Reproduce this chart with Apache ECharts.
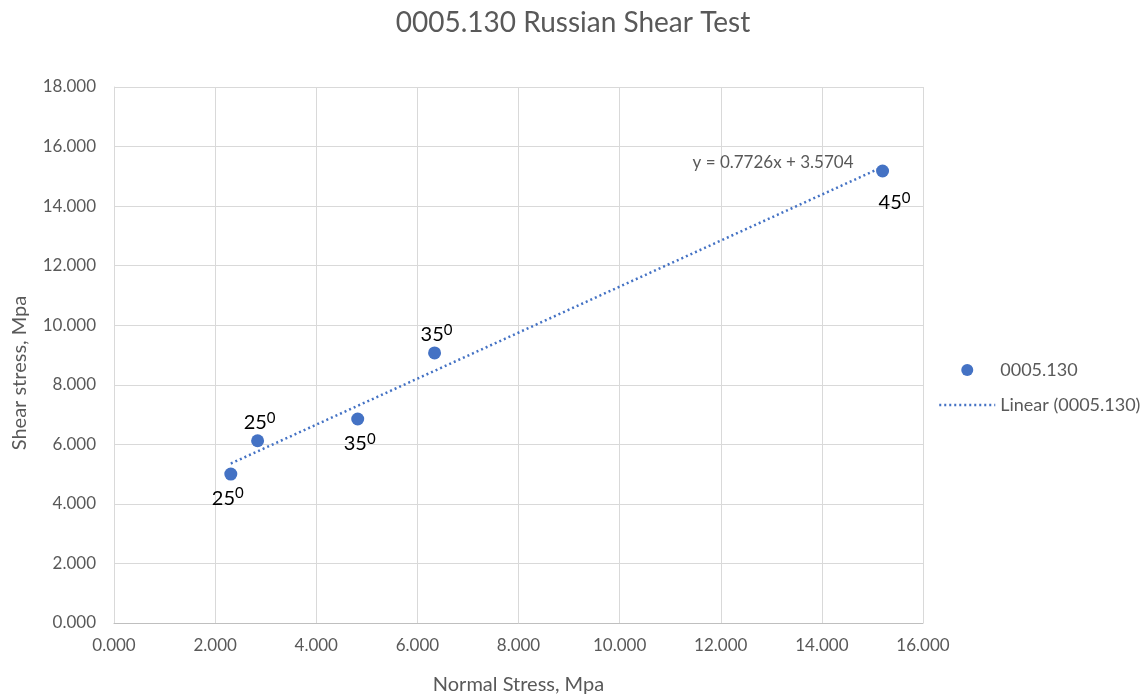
<!DOCTYPE html>
<html>
<head>
<meta charset="utf-8">
<title>0005.130 Russian Shear Test</title>
<script src="https://cdn.jsdelivr.net/npm/echarts@6/dist/echarts.min.js"></script>
<style>
  html, body { margin: 0; padding: 0; background: #fff; }
  #chart { width: 1146px; height: 695px; }
</style>
</head>
<body>
<div id="chart"></div>
<script>
// measured points (normal stress, shear stress)
const normalStress = [2.31, 2.84, 4.82, 6.34, 15.20];
const shearStress = [5.00, 6.12, 6.85, 9.07, 15.18];
const angleLabels = ['25', '25', '35', '35', '45'];
// label offset from the point centre, px
const labelOffsets = [[-3, 24], [2, -18], [2, 25], [2, -18], [12, 32]];

// excel trendline
const slope = 0.7726;
const intercept = 3.5704;
const trendX = [2.31, 15.20];
const trendLabel = 'y = 0.7726x + 3.5704';

const xTicks = { min: 0, max: 16, interval: 2 };
const yTicks = { min: 0, max: 18, interval: 2 };

const fontFamily = 'Lato, "Liberation Sans", sans-serif';
const chart = echarts.init(document.getElementById('chart'));

const pointData = normalStress.map((x, i) => ({
  value: [x, shearStress[i]],
  label: {
    show: true,
    position: 'inside',
    offset: labelOffsets[i],
    formatter: '{a|' + angleLabels[i] + '}{b|0}'
  }
}));

const trendData = trendX.map(x => [x, slope * x + intercept]);

chart.setOption({
  animation: false,
  textStyle: { fontFamily: fontFamily },
  title: {
    text: '0005.130 Russian Shear Test',
    left: 'center',
    top: 4,
    textStyle: { color: '#595959', fontSize: 28, fontWeight: 'normal', fontFamily: fontFamily }
  },
  legend: {
    orient: 'vertical',
    left: 933,
    top: 356,
    itemGap: 17,
    itemWidth: 56,
    itemHeight: 12,
    textStyle: { color: '#595959', fontSize: 18 },
    data: [
      { name: '0005.130', icon: 'circle' },
      {
        name: 'Linear (0005.130)',
        itemStyle: { opacity: 0 },
        lineStyle: { width: 2.5, type: [2, 3] }
      }
    ]
  },
  grid: { left: 114, right: 223, top: 87, bottom: 72, outerBoundsMode: 'none' },
  xAxis: {
    type: 'value',
    min: xTicks.min,
    max: xTicks.max,
    interval: xTicks.interval,
    name: 'Normal Stress, Mpa',
    nameLocation: 'middle',
    nameGap: 52,
    nameTextStyle: { color: '#595959', fontSize: 20 },
    axisLine: { lineStyle: { color: '#bfbfbf' } },
    axisTick: { show: false },
    axisLabel: {
      color: '#595959', fontSize: 17, margin: 14,
      formatter: v => v.toFixed(3)
    },
    splitLine: { lineStyle: { color: '#d9d9d9' } }
  },
  yAxis: {
    type: 'value',
    min: yTicks.min,
    max: yTicks.max,
    interval: yTicks.interval,
    name: 'Shear stress, Mpa',
    nameLocation: 'middle',
    nameGap: 84,
    nameTextStyle: { color: '#595959', fontSize: 20, padding: [0, 36, 0, 0] },
    axisLine: { show: true, lineStyle: { color: '#d9d9d9' } },
    axisTick: { show: false },
    axisLabel: {
      color: '#595959', fontSize: 17, margin: 18,
      formatter: v => v.toFixed(3)
    },
    splitLine: { lineStyle: { color: '#d9d9d9' } }
  },
  series: [
    {
      name: 'Linear (0005.130)',
      type: 'line',
      data: trendData,
      symbol: 'none',
      z: 1,
      lineStyle: { color: '#4472c4', width: 2.5, type: [2, 3] },
      itemStyle: { color: '#4472c4' },
      endLabel: {
        show: true,
        formatter: trendLabel,
        color: '#595959',
        fontSize: 17,
        offset: [-198, -4]
      }
    },
    {
      name: '0005.130',
      type: 'scatter',
      data: pointData,
      symbolSize: 13,
      z: 3,
      itemStyle: { color: '#4472c4', opacity: 1 },
      label: {
        rich: {
          a: { fontSize: 20, color: '#000', fontFamily: fontFamily, lineHeight: 24 },
          b: { fontSize: 15, color: '#000', fontFamily: fontFamily, verticalAlign: 'top', lineHeight: 24, padding: [0, 0, 8, 0] }
        }
      }
    }
  ]
});
</script>
</body>
</html>
